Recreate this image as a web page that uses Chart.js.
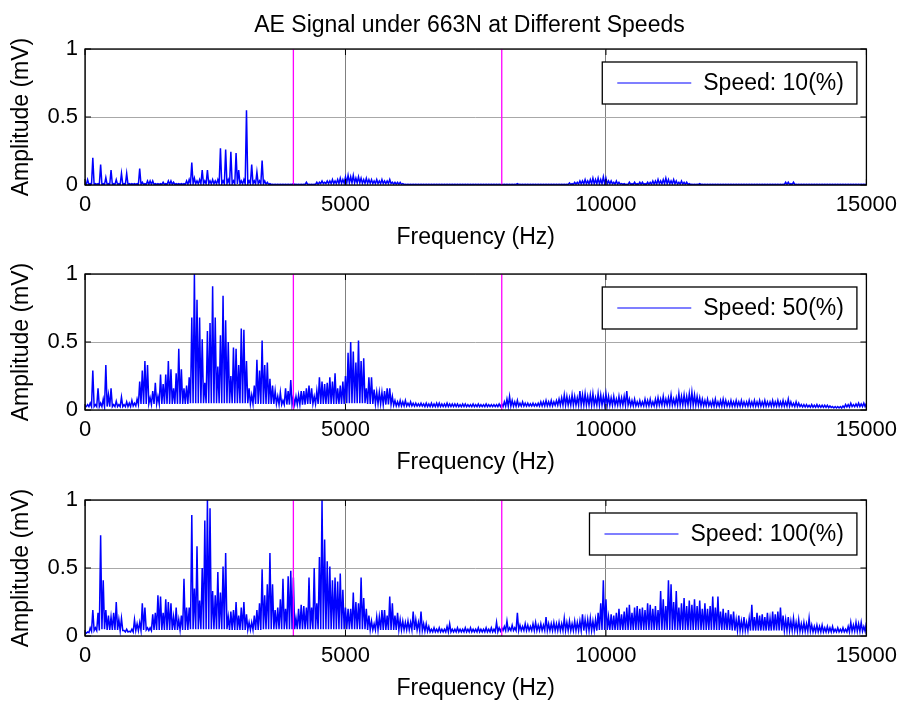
<!DOCTYPE html>
<html><head><meta charset="utf-8">
<script src="https://cdn.jsdelivr.net/npm/chart.js@4.4.0/dist/chart.umd.min.js"></script>
<style>
html,body{margin:0;padding:0;background:#fff;width:904px;height:704px;overflow:hidden;}
.box{position:absolute;left:0;width:904px;height:251px;}
#title{position:absolute;left:0;width:939px;top:10px;line-height:28px;text-align:center;font-size:23px;font-family:'Liberation Sans',Arial,sans-serif;color:#000;z-index:5;white-space:nowrap;}
</style></head><body>
<div class="box" style="top:0px"><canvas id="c0"></canvas></div>
<div class="box" style="top:225px"><canvas id="c1"></canvas></div>
<div class="box" style="top:451px"><canvas id="c2"></canvas></div>
<div id="title">AE Signal under 663N at Different Speeds</div>
<script>
// FFT bin spacing of the plotted spectra (Hz)
const binHz = 25;
const freqTicks = [0, 5000, 10000, 15000];
const ampTicks = [0, 0.5, 1];
const markerFreqs = [4000, 8000];
const seriesNames = ['Speed: 10(%)', 'Speed: 50(%)', 'Speed: 100(%)'];

// Amplitude (mV), one value per 25 Hz bin, 0..15000 Hz
const amp10 = [
.01,.004,.04,.004,.01,.004,.2,.004,.01,.004,.01,.004,.15,.004,.01,.004,.055,.004,.01,.004,
.11,.004,.01,.004,.04,.004,.01,.004,.085,.004,.01,.004,.085,.004,.01,.004,.01,.004,.01,.004,
.01,.004,.12,.004,.02,.004,.01,.004,.03,.004,.03,.004,.03,.004,.01,.004,.01,.004,.01,.004,
.02,.004,.01,.004,.03,.004,.03,.004,.02,.004,.01,.004,.01,.004,.01,.004,.01,.004,.03,.004,
.04,.008,.165,.008,.05,.008,.03,.008,.04,.008,.11,.008,.03,.008,.11,.008,.03,.008,.04,.008,
.03,.008,.04,.008,.27,.008,.03,.008,.26,.008,.04,.008,.245,.008,.03,.008,.235,.008,.11,.008,
.03,.008,.04,.008,.55,.008,.03,.008,.15,.008,.03,.008,.095,.008,.03,.008,.18,.008,.03,.006,
.02,.004,.01,.004,.005,.004,.005,.004,.005,.004,.005,.004,.005,.004,.005,.004,.005,.004,.005,.004,
.01,.004,.005,.004,.005,.004,.005,.004,.005,.004,.02,.004,.005,.004,.005,.004,.005,.004,.02,.004,
.02,.01,.03,.01,.02,.01,.03,.01,.03,.01,.04,.01,.03,.01,.04,.01,.05,.012,.04,.012,
.06,.015,.07,.015,.06,.015,.07,.015,.05,.015,.06,.015,.05,.012,.04,.012,.05,.012,.04,.012,
.04,.01,.03,.01,.04,.01,.03,.01,.04,.01,.03,.01,.03,.01,.04,.01,.02,.006,.02,.006,
.02,.005,.02,.005,.01,.004,.005,.004,.005,.004,.005,.004,.005,.004,.005,.004,.005,.004,.005,.004,
.005,.004,.005,.004,.005,.004,.005,.004,.005,.004,.005,.004,.005,.004,.005,.004,.005,.004,.005,.004,
.005,.004,.005,.004,.005,.004,.005,.004,.005,.004,.005,.004,.005,.004,.005,.004,.005,.004,.005,.004,
.005,.004,.005,.004,.005,.004,.005,.004,.005,.004,.005,.004,.005,.004,.005,.004,.005,.004,.005,.004,
.005,.004,.005,.004,.005,.004,.005,.004,.005,.004,.005,.004,.01,.004,.005,.004,.005,.004,.005,.004,
.005,.004,.005,.004,.005,.004,.005,.004,.005,.004,.005,.004,.005,.004,.005,.004,.005,.004,.005,.004,
.005,.004,.005,.004,.005,.004,.005,.004,.005,.004,.005,.004,.015,.004,.01,.004,.02,.006,.02,.006,
.03,.008,.03,.008,.04,.008,.03,.008,.04,.008,.05,.008,.04,.008,.05,.008,.04,.008,.06,.008,
.05,.008,.03,.008,.03,.008,.02,.006,.03,.006,.02,.006,.01,.004,.01,.004,.005,.004,.02,.004,
.01,.004,.02,.004,.01,.004,.02,.004,.02,.004,.01,.004,.02,.004,.02,.006,.03,.006,.03,.006,
.04,.008,.03,.008,.04,.008,.05,.008,.04,.008,.03,.008,.04,.008,.03,.006,.02,.006,.03,.006,
.02,.004,.02,.004,.01,.004,.005,.004,.005,.004,.005,.004,.01,.004,.005,.004,.005,.004,.005,.004,
.005,.004,.005,.004,.005,.004,.005,.004,.005,.004,.005,.004,.005,.004,.005,.004,.005,.004,.005,.004,
.005,.004,.005,.004,.005,.004,.005,.004,.005,.004,.005,.004,.005,.004,.005,.004,.005,.004,.005,.004,
.005,.004,.005,.004,.005,.004,.005,.004,.005,.004,.005,.004,.005,.004,.005,.004,.005,.004,.02,.004,
.02,.004,.01,.004,.02,.004,.005,.004,.005,.004,.005,.004,.005,.004,.005,.004,.005,.004,.005,.004,
.005,.004,.005,.004,.005,.004,.005,.004,.005,.004,.005,.004,.005,.004,.005,.004,.005,.004,.005,.004,
.005,.004,.005,.004,.005,.004,.005,.004,.005,.004,.005,.004,.005,.004,.005,.004,.005,.004,.005,.004,
.005];

const amp50 = [
.03,.025,.04,.025,.05,.025,.29,.025,.04,.025,.16,.025,.05,.025,.08,.025,.33,.025,.11,.025,
.16,.025,.04,.025,.065,.025,.04,.025,.095,.025,.04,.025,.06,.025,.05,.025,.07,.03,.05,.03,
.08,.04,.21,.045,.29,.045,.36,.045,.33,.045,.09,.04,.14,.045,.2,.045,.1,.045,.26,.045,
.19,.045,.26,.045,.36,.045,.3,.045,.16,.045,.27,.045,.45,.045,.3,.045,.16,.045,.18,.045,
.24,.05,.68,.05,1,.05,.81,.05,.68,.05,.52,.05,.2,.05,.58,.05,.64,.05,.91,.05,
.68,.05,.32,.05,.55,.05,.84,.05,.66,.05,.5,.05,.25,.05,.46,.05,.45,.05,.33,.05,
.6,.05,.59,.05,.36,.05,.16,.045,.11,.045,.18,.045,.37,.045,.29,.045,.51,.045,.33,.045,
.35,.045,.23,.045,.18,.045,.14,.045,.1,.04,.13,.04,.07,.04,.16,.04,.14,.04,.22,.04,
.1,.04,.1,.04,.11,.04,.14,.04,.14,.04,.16,.045,.18,.045,.16,.045,.1,.045,.14,.045,
.24,.045,.21,.045,.19,.045,.2,.045,.24,.045,.21,.045,.27,.045,.16,.045,.18,.045,.21,.045,
.25,.05,.42,.05,.5,.05,.43,.05,.35,.05,.51,.05,.36,.05,.38,.05,.16,.045,.24,.045,
.24,.045,.15,.045,.13,.045,.13,.045,.13,.04,.14,.04,.16,.04,.16,.04,.1,.035,.07,.03,
.06,.03,.07,.03,.06,.03,.07,.03,.05,.03,.06,.03,.05,.028,.05,.028,.045,.028,.05,.028,
.045,.025,.05,.025,.045,.025,.05,.025,.045,.025,.05,.025,.05,.025,.045,.025,.045,.025,.05,.025,
.045,.025,.045,.025,.045,.025,.045,.025,.04,.025,.045,.025,.045,.025,.04,.025,.04,.025,.045,.025,
.04,.025,.045,.025,.04,.025,.04,.025,.045,.025,.04,.025,.04,.025,.04,.025,.04,.025,.045,.025,
.045,.025,.06,.028,.08,.028,.1,.028,.07,.028,.06,.028,.07,.028,.05,.028,.06,.028,.05,.028,
.05,.028,.045,.028,.05,.028,.045,.028,.05,.028,.06,.03,.06,.03,.07,.03,.06,.03,.07,.03,
.06,.035,.07,.035,.08,.035,.09,.035,.11,.035,.1,.035,.09,.035,.11,.035,.1,.035,.09,.035,
.14,.035,.11,.035,.12,.035,.1,.035,.11,.035,.12,.035,.09,.035,.12,.035,.11,.035,.1,.035,
.12,.035,.1,.035,.09,.035,.1,.035,.08,.035,.1,.035,.09,.035,.1,.035,.14,.035,.08,.03,
.07,.03,.08,.03,.06,.03,.07,.03,.06,.03,.08,.03,.07,.03,.08,.03,.06,.03,.08,.03,
.09,.035,.08,.035,.1,.035,.08,.035,.09,.035,.11,.035,.08,.035,.09,.035,.12,.035,.1,.035,
.11,.035,.1,.035,.12,.035,.13,.035,.11,.035,.1,.035,.09,.03,.08,.03,.07,.03,.08,.03,
.06,.028,.07,.028,.08,.028,.06,.028,.07,.028,.08,.028,.07,.028,.06,.028,.07,.028,.06,.028,
.07,.028,.06,.028,.07,.028,.06,.028,.06,.028,.07,.028,.06,.028,.07,.028,.06,.028,.07,.028,
.06,.028,.07,.028,.06,.028,.06,.028,.07,.028,.06,.028,.07,.028,.06,.028,.07,.028,.06,.028,
.08,.028,.06,.028,.05,.025,.06,.025,.05,.025,.04,.022,.04,.022,.04,.022,.035,.02,.04,.02,
.035,.02,.04,.02,.035,.02,.035,.02,.035,.02,.035,.018,.03,.018,.025,.015,.025,.015,.025,.015,
.025,.015,.03,.018,.04,.022,.04,.022,.05,.025,.04,.025,.045,.025,.05,.025,.045,.025,.05,.025,
.05];

const amp100 = [
.03,.02,.03,.025,.06,.035,.19,.04,.06,.04,.17,.04,.74,.05,.41,.05,.19,.045,.15,.045,
.14,.045,.17,.045,.25,.045,.12,.04,.13,.04,.04,.03,.05,.03,.035,.03,.05,.03,.12,.04,
.09,.04,.1,.04,.24,.045,.21,.045,.06,.04,.06,.04,.16,.045,.17,.045,.3,.045,.29,.045,
.17,.045,.27,.045,.25,.045,.24,.045,.14,.045,.21,.045,.12,.045,.15,.045,.42,.045,.21,.045,
.21,.05,.89,.05,.35,.05,.66,.05,.26,.05,.5,.05,.85,.05,1,.05,.94,.05,.33,.05,
.3,.05,.47,.05,.32,.05,.51,.05,.61,.05,.14,.045,.18,.045,.19,.045,.25,.045,.15,.045,
.21,.045,.25,.045,.16,.045,.1,.045,.1,.045,.15,.045,.19,.045,.24,.045,.49,.05,.3,.05,
.38,.05,.61,.05,.38,.05,.19,.05,.21,.05,.27,.05,.42,.05,.2,.05,.44,.05,.48,.05,
.43,.05,.13,.05,.2,.05,.23,.05,.22,.05,.21,.05,.43,.05,.21,.05,.5,.05,.24,.05,
.58,.05,1,.05,.71,.05,.55,.05,.51,.05,.41,.05,.43,.05,.4,.05,.46,.05,.34,.05,
.21,.05,.2,.05,.2,.05,.32,.05,.25,.05,.24,.05,.43,.05,.28,.05,.2,.045,.15,.045,
.11,.045,.09,.045,.14,.045,.14,.045,.19,.045,.19,.045,.15,.045,.29,.045,.24,.045,.15,.045,
.17,.045,.12,.045,.11,.045,.1,.045,.11,.045,.1,.045,.18,.045,.12,.045,.1,.04,.18,.04,
.09,.035,.09,.035,.07,.03,.05,.03,.06,.03,.05,.03,.06,.03,.05,.03,.05,.03,.07,.03,
.09,.03,.05,.03,.05,.03,.06,.03,.05,.03,.05,.03,.06,.03,.05,.03,.06,.03,.05,.03,
.05,.03,.06,.03,.05,.03,.05,.03,.06,.03,.05,.03,.06,.03,.05,.03,.1,.03,.06,.035,
.06,.04,.07,.04,.11,.04,.06,.04,.08,.04,.06,.04,.17,.04,.08,.04,.07,.04,.09,.04,
.08,.04,.07,.04,.09,.04,.1,.04,.08,.04,.09,.04,.08,.04,.14,.04,.09,.04,.09,.04,
.1,.04,.09,.04,.1,.04,.09,.04,.13,.04,.1,.04,.11,.04,.09,.04,.11,.04,.1,.04,
.11,.04,.16,.04,.12,.04,.12,.04,.13,.04,.11,.04,.12,.04,.17,.045,.24,.045,.41,.045,
.27,.045,.14,.045,.16,.045,.15,.045,.17,.045,.2,.045,.16,.045,.18,.045,.21,.045,.23,.045,
.17,.045,.21,.045,.22,.045,.2,.045,.21,.045,.19,.045,.24,.045,.23,.045,.2,.045,.22,.045,
.19,.045,.33,.045,.27,.045,.22,.045,.41,.045,.38,.045,.25,.045,.33,.045,.21,.045,.24,.045,
.28,.045,.22,.045,.26,.045,.23,.045,.27,.045,.22,.045,.26,.045,.2,.045,.24,.045,.2,.045,
.22,.045,.29,.045,.21,.045,.29,.045,.18,.045,.2,.045,.17,.045,.19,.045,.16,.04,.18,.04,
.12,.04,.15,.04,.11,.04,.14,.04,.1,.04,.13,.04,.23,.04,.14,.04,.17,.04,.15,.04,
.16,.04,.14,.04,.17,.04,.13,.04,.18,.04,.16,.04,.18,.04,.21,.04,.15,.04,.12,.04,
.14,.04,.11,.04,.13,.04,.1,.035,.12,.035,.09,.035,.1,.035,.09,.035,.13,.035,.08,.03,
.07,.03,.08,.03,.07,.03,.08,.03,.06,.03,.07,.03,.06,.03,.07,.03,.05,.03,.06,.03,
.05,.03,.06,.03,.05,.03,.07,.03,.1,.035,.08,.035,.1,.035,.09,.035,.1,.035,.07,.035,
.1];

const FONT = "'Liberation Sans', Arial, sans-serif";

const framePlugin = {
  id: 'frame',
  afterDraw(chart) {
    const {ctx, chartArea: a, scales: {x, y}} = chart;
    ctx.save();
    // axes box
    ctx.strokeStyle = '#000';
    ctx.lineWidth = 1.3;
    ctx.strokeRect(a.left, a.top, a.right - a.left, a.bottom - a.top);
    // inward tick marks on all four sides
    ctx.lineWidth = 1;
    const L = 6;
    ctx.beginPath();
    freqTicks.forEach(v => {
      const px = x.getPixelForValue(v);
      ctx.moveTo(px, a.bottom); ctx.lineTo(px, a.bottom - L);
      ctx.moveTo(px, a.top); ctx.lineTo(px, a.top + L);
    });
    ampTicks.forEach(v => {
      const py = y.getPixelForValue(v);
      ctx.moveTo(a.left, py); ctx.lineTo(a.left + L, py);
      ctx.moveTo(a.right, py); ctx.lineTo(a.right - L, py);
    });
    ctx.stroke();
    // legend box
    const ds = chart.data.datasets.find(d => d.isSignal);
    ctx.font = '23px ' + FONT;
    const tw = ctx.measureText(ds.label).width;
    const bw = 101 + tw + 13, bh = 42;
    const bx = a.right - 9.5 - bw, by = a.top + 13;
    ctx.fillStyle = '#fff';
    ctx.fillRect(bx, by, bw, bh);
    ctx.lineWidth = 1.3;
    ctx.strokeStyle = '#000';
    ctx.strokeRect(bx, by, bw, bh);
    ctx.lineWidth = 1.2;
    ctx.strokeStyle = ds.borderColor;
    ctx.beginPath();
    ctx.moveTo(bx + 15, by + bh / 2);
    ctx.lineTo(bx + 89, by + bh / 2);
    ctx.stroke();
    ctx.fillStyle = '#000';
    ctx.textBaseline = 'middle';
    ctx.textAlign = 'left';
    ctx.fillText(ds.label, bx + 101, by + bh / 2 + 1);
    ctx.restore();
  }
};

function makeChart(id, values, name) {
  const signal = values.map((v, i) => ({x: i * binHz, y: v}));
  const markers = markerFreqs.map(f => ({
    label: 'marker ' + f,
    data: [{x: f, y: ampTicks[0]}, {x: f, y: ampTicks[ampTicks.length - 1]}],
    borderColor: '#ff00ff',
    borderWidth: 1.3,
    pointRadius: 0,
    order: 0
  }));
  return new Chart(document.getElementById(id), {
    type: 'line',
    data: {
      datasets: [
        ...markers,
        {label: name, isSignal: true, data: signal, borderColor: '#0000ff', borderWidth: 1.5,
         pointRadius: 0, tension: 0, order: 1}
      ]
    },
    options: {
      responsive: true,
      maintainAspectRatio: false,
      animation: false,
      devicePixelRatio: 1,
      events: [],
      layout: {padding: {top: 49, right: 37.5, left: 0, bottom: 0}},
      plugins: {legend: {display: false}, tooltip: {enabled: false}, title: {display: false}},
      scales: {
        x: {
          type: 'linear', min: 0, max: 15000,
          afterBuildTicks: s => { s.ticks = freqTicks.map(v => ({value: v})); },
          afterFit: s => { s.height = 66; },
          ticks: {callback: v => String(v), font: {family: FONT, size: 22}, color: '#000',
                  padding: 7, maxRotation: 0, autoSkip: false},
          grid: {color: '#808080', drawTicks: false, lineWidth: 1},
          border: {display: false},
          title: {display: true, text: 'Frequency (Hz)', font: {family: FONT, size: 23},
                  color: '#000', padding: {top: 0, bottom: 0}}
        },
        y: {
          type: 'linear', min: 0, max: 1,
          afterBuildTicks: s => { s.ticks = ampTicks.map(v => ({value: v})); },
          afterFit: s => { s.width = 85; },
          ticks: {callback: v => String(v), font: {family: FONT, size: 22}, color: '#000', padding: 7},
          grid: {color: '#a8a8a8', drawTicks: false, lineWidth: 1},
          border: {display: false},
          title: {display: true, text: 'Amplitude (mV)', font: {family: FONT, size: 23},
                  color: '#000', padding: {top: 8, bottom: 0}}
        }
      }
    },
    plugins: [framePlugin]
  });
}

makeChart('c0', amp10, seriesNames[0]);
makeChart('c1', amp50, seriesNames[1]);
makeChart('c2', amp100, seriesNames[2]);
</script>
</body></html>
